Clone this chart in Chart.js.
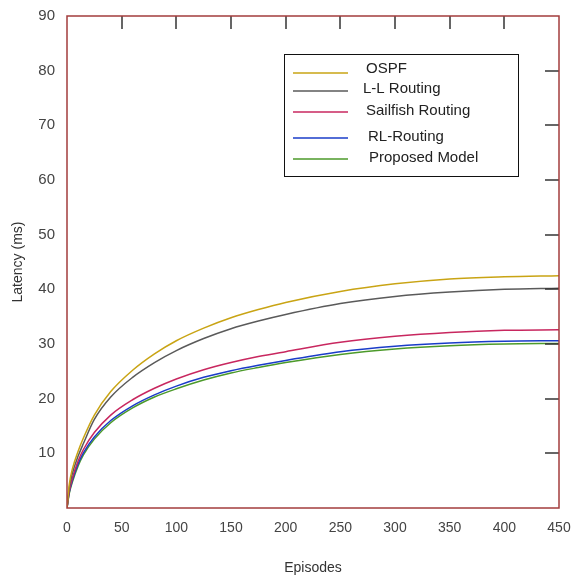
<!DOCTYPE html>
<html>
<head>
<meta charset="utf-8">
<script src="https://cdn.jsdelivr.net/npm/chart.js@4"></script>
<style>
  body { margin: 0; background: #fff; }
  #wrap { width: 573px; height: 579px; position: relative; }
</style>
</head>
<body>
<div id="wrap"><canvas id="myChart"></canvas></div>
<script>
// episodes sampled along the x axis
const episodes  = [0, 2, 5, 10, 15, 25, 40, 60, 80, 100, 125, 150, 175, 200, 250, 300, 350, 400, 450];
// latency (ms)
const ospf      = [0, 4.2, 7.2, 10.3, 12.8, 17.0, 21.3, 25.2, 28.2, 30.6, 32.9, 34.8, 36.3, 37.6, 39.6, 41.0, 41.9, 42.3, 42.5];
const llRouting = [0, 3.6, 6.4, 9.4, 11.8, 16.2, 20.3, 23.9, 26.6, 28.8, 31.0, 32.8, 34.2, 35.4, 37.4, 38.7, 39.5, 40.0, 40.2];
const sailfish  = [0, 3.0, 5.5, 8.5, 10.7, 13.8, 17.0, 19.8, 21.9, 23.6, 25.3, 26.6, 27.7, 28.6, 30.3, 31.4, 32.1, 32.5, 32.6];
const rlRouting = [0, 2.8, 5.1, 8.0, 10.1, 13.0, 16.0, 18.7, 20.7, 22.3, 23.9, 25.1, 26.1, 27.0, 28.6, 29.6, 30.2, 30.5, 30.6];
const proposed  = [0, 2.6, 4.8, 7.6, 9.7, 12.6, 15.6, 18.3, 20.3, 21.8, 23.4, 24.7, 25.7, 26.6, 28.1, 29.1, 29.7, 30.0, 30.1];

const seriesNames = ['OSPF', 'L-L Routing', 'Sailfish Routing', 'RL-Routing', 'Proposed Model'];
const seriesColors = ['#c9a414', '#5a5a5a', '#c8275f', '#1a3cc8', '#4c9a2a'];
const topTicks = [50, 100, 150, 200, 250, 300, 350, 400];
const rightTicks = [10, 20, 30, 40, 50, 60, 70, 80];

function pts(vals) {
    return episodes.map((e, i) => ({x: e, y: vals[i]}));
}

const allSeries = [ospf, llRouting, sailfish, rlRouting, proposed];

// frame, inner ticks and the boxed legend
const framePlugin = {
    id: 'framePlugin',
    afterDraw(chart) {
        const ctx = chart.ctx;
        const a = chart.chartArea;
        const sx = chart.scales.x, sy = chart.scales.y;
        ctx.save();
        ctx.strokeStyle = '#333';
        ctx.lineWidth = 1.5;
        topTicks.forEach(v => {
            const px = Math.round(sx.getPixelForValue(v));
            ctx.beginPath(); ctx.moveTo(px, a.top); ctx.lineTo(px, a.top + 13); ctx.stroke();
        });
        rightTicks.forEach(v => {
            const py = Math.round(sy.getPixelForValue(v));
            ctx.beginPath(); ctx.moveTo(a.right - 14, py); ctx.lineTo(a.right, py); ctx.stroke();
        });
        ctx.strokeStyle = '#a33c3c';
        ctx.lineWidth = 1.5;
        ctx.strokeRect(a.left, a.top, a.right - a.left, a.bottom - a.top);

        // legend box
        ctx.fillStyle = '#fff';
        ctx.fillRect(284, 54, 235, 123);
        ctx.strokeStyle = '#111';
        ctx.lineWidth = 1;
        ctx.strokeRect(284.5, 54.5, 234, 122);
        const lineY = [73, 91, 112, 138, 159];
        const textX = [366, 363, 366, 368, 369];
        const textY = [69, 89, 111, 137, 158];
        ctx.font = '15px "Liberation Sans", Arial, sans-serif';
        ctx.textBaseline = 'middle';
        seriesNames.forEach((n, i) => {
            ctx.strokeStyle = seriesColors[i];
            ctx.lineWidth = 1.5;
            ctx.beginPath(); ctx.moveTo(293, lineY[i]); ctx.lineTo(348, lineY[i]); ctx.stroke();
            ctx.fillStyle = '#222';
            ctx.fillText(n, textX[i], textY[i]);
        });
        ctx.restore();
    }
};

const ctx = document.getElementById('myChart').getContext('2d');
new Chart(ctx, {
    type: 'line',
    data: {
        datasets: allSeries.map((s, i) => ({
            label: seriesNames[i],
            data: pts(s),
            borderColor: seriesColors[i],
            borderWidth: 1.5,
            pointRadius: 0,
            fill: false,
            cubicInterpolationMode: 'monotone'
        }))
    },
    options: {
        responsive: true,
        maintainAspectRatio: false,
        animation: false,
        layout: { padding: { top: 16, right: 14, left: 0, bottom: 0 } },
        plugins: { legend: { display: false }, tooltip: { enabled: false } },
        scales: {
            x: {
                type: 'linear',
                min: 0, max: 450,
                grid: { display: false, drawTicks: false },
                border: { display: false },
                ticks: { stepSize: 50, padding: 12, color: '#444', font: { size: 14, family: '"Liberation Sans", Arial' } },
                title: { display: true, text: 'Episodes', color: '#333', font: { size: 14, family: '"Liberation Sans", Arial' }, padding: { top: 0, bottom: 2 } },
                afterFit: s => { s.height = 71; s.paddingLeft = 0; s.paddingRight = 0; }
            },
            y: {
                min: 0, max: 90,
                grid: { display: false, drawTicks: false },
                border: { display: false },
                ticks: {
                    stepSize: 10, padding: 12, color: '#444',
                    font: { size: 15, family: '"Liberation Sans", Arial' },
                    callback: v => v === 0 ? '' : v
                },
                title: { display: true, text: 'Latency (ms)', color: '#333', font: { size: 14, family: '"Liberation Sans", Arial' }, padding: { top: 10, bottom: 0 } },
                afterFit: s => { s.width = 67; s.paddingTop = 0; s.paddingBottom = 0; }
            }
        }
    },
    plugins: [framePlugin]
});
</script>
</body>
</html>
